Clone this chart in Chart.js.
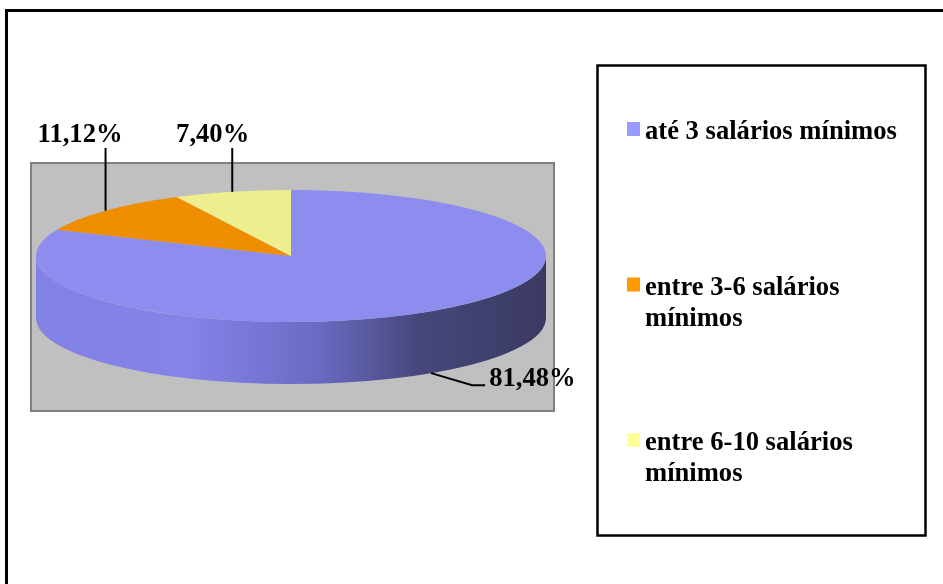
<!DOCTYPE html>
<html lang="pt">
<head>
  <meta charset="UTF-8">
  <title>Renda familiar</title>
  <style>
    html, body { margin: 0; padding: 0; background: #fff; }
    #pie { display: block; }
  </style>
</head>
<body>
  <canvas id="pie" width="943" height="584"></canvas>

  <script src="https://cdn.jsdelivr.net/npm/chart.js"></script>
  <script>
    // categories and shares (%)
    const categories = [
      ['até 3 salários mínimos'],
      ['entre 3-6 salários', 'mínimos'],
      ['entre 6-10 salários', 'mínimos']
    ];
    const shares = [81.48, 11.12, 7.40];
    const legendColors = ['#9999ff', '#ff9900', '#ffff99'];
    const faceColors = ['#8d8def', '#ee8d00', '#eeee8f'];

    const FONT = 'bold 26.6px "Liberation Serif", "Times New Roman", serif';
    const TILT = 66 / 255;   // vertical squash of the disc
    const DEPTH = 62;        // thickness of the disc

    function fmt(v) {
      return v.toFixed(2).replace('.', ',') + '%';
    }

    // everything the plain pie doesn't draw: frame, plot area, disc side, labels, legend
    const pie3d = {
      id: 'pie3d',
      beforeDraw(chart) {
        const ctx = chart.ctx;
        ctx.save();
        // outer frame (only top and left edges fall inside the page)
        ctx.strokeStyle = '#000';
        ctx.lineWidth = 3;
        ctx.beginPath();
        ctx.moveTo(6.5, 590);
        ctx.lineTo(6.5, 10.5);
        ctx.lineTo(950, 10.5);
        ctx.stroke();
        // grey plot area
        ctx.fillStyle = '#c0c0c0';
        ctx.fillRect(31, 163, 523, 248);
        ctx.strokeStyle = '#808080';
        ctx.lineWidth = 2;
        ctx.strokeRect(31, 163, 523, 248);
        ctx.restore();
      },
      beforeDatasetsDraw(chart) {
        const ctx = chart.ctx;
        const arcs = chart.getDatasetMeta(0).data;
        const { x: cx, y: cy, outerRadius: r } = arcs[0];
        const ry = r * TILT;

        const grad = ctx.createLinearGradient(cx - r, 0, cx + r, 0);
        grad.addColorStop(0, '#8282e6');
        grad.addColorStop(0.3, '#8383e8');
        grad.addColorStop(0.55, '#6b6bc4');
        grad.addColorStop(0.75, '#47477c');
        grad.addColorStop(1, '#3a3a62');

        ctx.save();
        arcs.forEach((arc, i) => {
          // only the front half (0..PI) of each slice shows its wall
          [[0, Math.PI], [2 * Math.PI, 3 * Math.PI]].forEach(([lo, hi]) => {
            const a0 = Math.max(arc.startAngle, lo);
            const a1 = Math.min(arc.endAngle, hi);
            if (a1 <= a0) return;
            ctx.beginPath();
            ctx.ellipse(cx, cy, r, ry, 0, a0, a1, false);
            ctx.ellipse(cx, cy + DEPTH, r, ry, 0, a1, a0, true);
            ctx.closePath();
            ctx.fillStyle = i === 0 ? grad : faceColors[i];
            ctx.fill();
          });
        });
        ctx.restore();

        // squash the round pie into the top face of the disc
        ctx.save();
        ctx.translate(cx, cy);
        ctx.scale(1, TILT);
        ctx.translate(-cx, -cy);
      },
      afterDatasetsDraw(chart) {
        const ctx = chart.ctx;
        ctx.restore();

        const arcs = chart.getDatasetMeta(0).data;
        const { x: cx, y: cy, outerRadius: r } = arcs[0];
        const ry = r * TILT;

        ctx.save();
        ctx.font = FONT;
        ctx.fillStyle = '#000';
        ctx.strokeStyle = '#000';
        ctx.lineWidth = 2;
        arcs.forEach((arc, i) => {
          const mid = (arc.startAngle + arc.endAngle) / 2;
          const front = Math.sin(mid) > 0;
          const px = cx + r * Math.cos(mid);
          const py = cy + ry * Math.sin(mid) + (front ? DEPTH : 0);
          const text = fmt(shares[i]);
          ctx.beginPath();
          if (front) {
            ctx.moveTo(px, py);
            ctx.lineTo(px + 41, py + 12);
            ctx.lineTo(px + 54, py + 12);
            ctx.stroke();
            ctx.textAlign = 'left';
            ctx.fillText(text, px + 58, py + 13);
          } else {
            ctx.moveTo(px, py);
            ctx.lineTo(px, 148);
            ctx.stroke();
            ctx.textAlign = 'right';
            ctx.fillText(text, px + 17, 142);
          }
        });
        ctx.restore();
      },
      afterDraw(chart) {
        const ctx = chart.ctx;
        ctx.save();
        ctx.strokeStyle = '#000';
        ctx.lineWidth = 2.5;
        ctx.strokeRect(597.5, 65.5, 328, 470);

        ctx.font = FONT;
        ctx.textAlign = 'left';
        chart.data.labels.forEach((lines, i) => {
          const base = 139 + i * 155.5;
          ctx.fillStyle = legendColors[i];
          ctx.fillRect(627, base - 17, 13, 14);
          ctx.fillStyle = '#000';
          lines.forEach((line, j) => ctx.fillText(line, 645, base + j * 31));
        });
        ctx.restore();
      }
    };

    new Chart(document.getElementById('pie'), {
      type: 'pie',
      data: {
        labels: categories,
        datasets: [{
          data: shares,
          backgroundColor: faceColors,
          borderWidth: 0,
          clip: false
        }]
      },
      options: {
        responsive: false,
        animation: false,
        layout: { padding: { left: 36, right: 397, top: 1, bottom: 73 } },
        plugins: {
          legend: { display: false },
          tooltip: { enabled: false }
        }
      },
      plugins: [pie3d]
    });
  </script>
</body>
</html>
